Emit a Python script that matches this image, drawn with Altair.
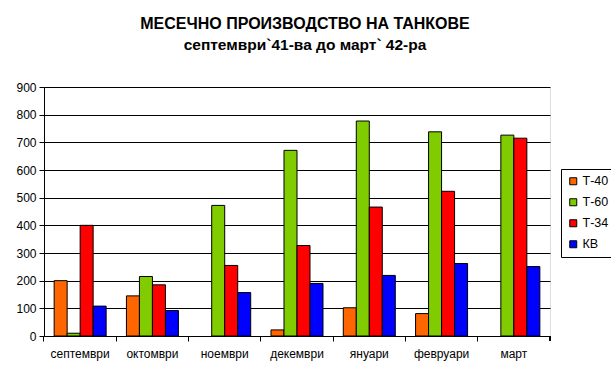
import altair as alt
import pandas as pd

months = ["септември", "октомври", "ноември", "декември", "януари", "февруари", "март"]
series = ["Т-40", "Т-60", "Т-34", "КВ"]
t40 = [200, 145, 0, 22, 102, 81, 0]
t60 = [10, 215, 472, 671, 777, 738, 726]
t34 = [400, 185, 255, 327, 466, 523, 715]
kv = [108, 92, 157, 190, 219, 262, 251]
colors = ["#FF6600", "#80CC00", "#FF0000", "#0000FF"]
y_ticks = [0, 100, 200, 300, 400, 500, 600, 700, 800, 900]

rows = []
for name, vals in zip(series, [t40, t60, t34, kv]):
    for m, v in zip(months, vals):
        rows.append({"month": m, "series": name, "value": v})
df = pd.DataFrame(rows)

FONT = "Liberation Sans"
W, H = 506, 249

bars = alt.Chart(df).transform_filter("datum.value > 0").mark_bar(
    stroke="black", strokeWidth=1
).encode(
    x=alt.X("month:N", sort=months, title=None,
            scale=alt.Scale(domain=months, paddingInner=0, paddingOuter=0),
            axis=alt.Axis(labelAngle=0, bandPosition=0, labelOffset=0,
                          domainColor="black", tickColor="black", tickSize=5,
                          labelFont=FONT, labelFontSize=12, labelColor="black",
                          labelPadding=7, grid=False)),
    xOffset=alt.XOffset("series:N", sort=series,
                        scale=alt.Scale(domain=series, paddingInner=0, paddingOuter=0.78)),
    y=alt.Y("value:Q", title=None,
            scale=alt.Scale(domain=[0, 900], nice=False),
            axis=alt.Axis(values=y_ticks, domainColor="black", tickColor="black",
                          tickSize=5, labelFont=FONT, labelFontSize=12,
                          labelColor="black", labelPadding=3,
                          grid=True, gridColor="black", gridWidth=1)),
    color=alt.Color("series:N", sort=series,
                    scale=alt.Scale(domain=series, range=colors),
                    legend=alt.Legend(title=None, orient="none", legendX=517, legendY=82,
                                      fillColor="white", strokeColor="black",
                                      padding=6, symbolType="square", symbolSize=49,
                                      symbolStrokeColor="black", symbolStrokeWidth=1,
                                      labelFont=FONT, labelFontSize=12.5, labelColor="black",
                                      rowPadding=8, symbolOffset=0, labelOffset=3)),
)

end_tick = alt.Chart(df).mark_rule(color="black", strokeWidth=1).encode(
    x=alt.value(W), y=alt.value(H), y2=alt.value(H + 5)
)

chart = alt.layer(bars, end_tick).properties(
    width=W, height=H,
    autosize=alt.AutoSizeParams(type="none"),
    padding={"left": 44, "top": 87, "right": 61, "bottom": 41},
    title=alt.TitleParams(
        text="МЕСЕЧНО ПРОИЗВОДСТВО НА ТАНКОВЕ",
        subtitle="септември`41-ва до март` 42-ра",
        font=FONT, fontSize=16, fontWeight="bold", color="black",
        subtitleFont=FONT, subtitleFontSize=15.5, subtitleFontWeight="bold",
        subtitleColor="black", subtitlePadding=6,
        anchor="middle", dx=8, offset=28,
    ),
).configure_view(
    fill="#C0C0C0", stroke="#808080", strokeWidth=1
).configure(background="white")

chart.save("out.html", embed_options={"renderer": "svg", "actions": False})
